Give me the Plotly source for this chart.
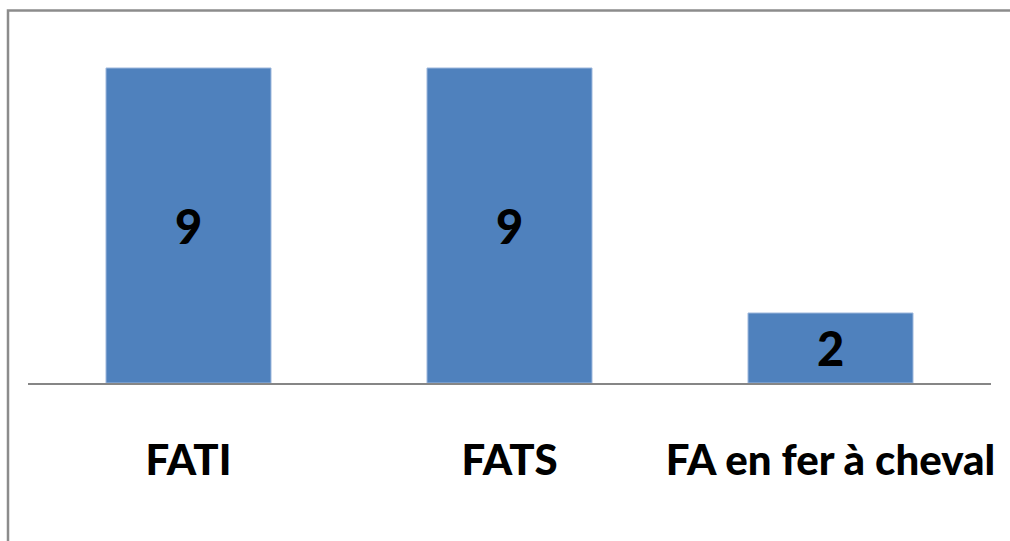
import plotly.graph_objects as go

# Chart data
categories = ["FATI", "FATS", "FA en fer à cheval"]
counts = [9, 9, 2]

bar_color = "#4F81BD"

fig = go.Figure(
    go.Bar(
        x=categories,
        y=counts,
        text=[str(v) for v in counts],
        textposition="inside",
        insidetextanchor="middle",
        textangle=0,
        textfont=dict(family="Lato", size=47, color="black", weight=900),
        marker=dict(color=bar_color, line=dict(color="#9DB7DC", width=1)),
        hoverinfo="x+y",
    )
)

# Outer frame around the chart (left and top edges visible)
fx0, fx1 = -20 / 963, 1030 / 963
fy0, fy1 = (383 - 560) / 350, (383 - 10.5) / 350
fig.add_shape(
    type="path",
    xref="paper", yref="paper",
    path=f"M {fx0} {fy0} L {fx0} {fy1} L {fx1} {fy1}",
    line=dict(color="#8C8C8C", width=2.5),
)

fig.update_layout(
    width=1010,
    height=541,
    margin=dict(l=28, r=19, t=33, b=158),
    paper_bgcolor="white",
    plot_bgcolor="white",
    bargap=0.486,
    showlegend=False,
    uniformtext=dict(mode=False),
)

fig.update_xaxes(
    showline=True,
    linecolor="#868686",
    linewidth=2,
    ticks="",
    showgrid=False,
    ticklabelstandoff=40,
    tickfont=dict(family="Lato", size=42, color="black", weight=900),
)
fig.update_yaxes(
    range=[0, 10],
    visible=False,
    showgrid=False,
    zeroline=False,
)

fig.write_html("out.html")
